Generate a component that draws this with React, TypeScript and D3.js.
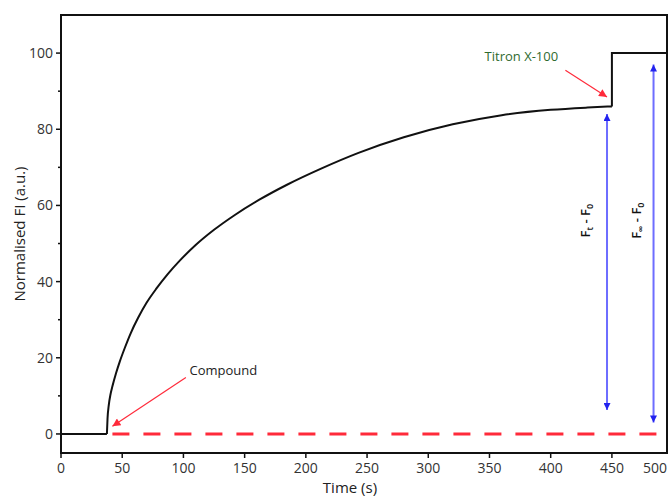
import React, { useEffect, useRef } from 'react';
import * as d3 from 'd3';

// kinetic trace (time in s, normalised FI)
const riseTime = [37.5, 38, 39, 40.5, 42, 45, 48, 52, 57, 63, 70, 78, 87, 97, 110, 125, 142, 162, 185, 212, 243, 280, 320, 360, 400, 430, 450];
const riseValue = [0, 4, 7.5, 10.5, 12.5, 16, 19, 22.5, 26.5, 30.5, 34.5, 38.2, 41.9, 45.5, 49.6, 53.6, 57.5, 61.5, 65.5, 69.6, 73.8, 77.9, 81.3, 83.7, 85.1, 85.7, 86];
const baseTime = [0, 37.5];
const stepTime = [450, 450, 495];
const stepValue = [86, 100, 100];
const compoundTime = [42, 495];
const compoundValue = [0, 0];

const xTicks = [0, 50, 100, 150, 200, 250, 300, 350, 400, 450, 500];
const yTicks = [0, 20, 40, 60, 80, 100];
const yMinor = [10, 30, 50, 70, 90];

const FONT = '"Open Sans", "Liberation Sans", sans-serif';

const App: React.FC = () => {
  const ref = useRef<SVGSVGElement>(null);

  useEffect(() => {
    const svg = d3.select(ref.current);
    svg.selectAll('*').remove();

    const W = 671;
    const H = 497;
    const m = { top: 15, right: 4, bottom: 44, left: 61 };

    const x = d3.scaleLinear().domain([0, 495]).range([m.left, W - m.right]);
    const y = d3.scaleLinear().domain([-5, 110]).range([H - m.bottom, m.top]);

    const defs = svg.append('defs');
    const marker = (id: string, color: string, w: number, h: number) => {
      defs
        .append('marker')
        .attr('id', id)
        .attr('viewBox', '0 0 10 10')
        .attr('refX', 10)
        .attr('refY', 5)
        .attr('markerWidth', w)
        .attr('markerHeight', h)
        .attr('markerUnits', 'userSpaceOnUse')
        .attr('orient', 'auto-start-reverse')
        .append('path')
        .attr('d', 'M0,0 L10,5 L0,10 Z')
        .attr('fill', color);
    };
    marker('redHead', '#ff2a3a', 10, 8);
    marker('blueHead', '#2222ee', 8, 7);

    // frame
    svg
      .append('rect')
      .attr('x', x(0))
      .attr('y', y(110))
      .attr('width', x(495) - x(0))
      .attr('height', y(-5) - y(110))
      .attr('fill', 'none')
      .attr('stroke', '#111')
      .attr('stroke-width', 2);

    // y ticks
    const yAxis = svg.append('g').attr('font-family', FONT);
    yAxis
      .selectAll('line.major')
      .data(yTicks)
      .join('line')
      .attr('x1', x(0) - 5)
      .attr('x2', x(0))
      .attr('y1', (d) => y(d))
      .attr('y2', (d) => y(d))
      .attr('stroke', '#111')
      .attr('stroke-width', 1.5);
    yAxis
      .selectAll('line.minor')
      .data(yMinor)
      .join('line')
      .attr('x1', x(0) - 3)
      .attr('x2', x(0))
      .attr('y1', (d) => y(d))
      .attr('y2', (d) => y(d))
      .attr('stroke', '#111')
      .attr('stroke-width', 1.5);
    yAxis
      .selectAll('text')
      .data(yTicks)
      .join('text')
      .attr('x', x(0) - 8)
      .attr('y', (d) => y(d))
      .attr('dy', '0.35em')
      .attr('text-anchor', 'end')
      .attr('font-size', 14)
      .attr('fill', '#333')
      .text((d) => d);

    // x ticks
    const xAxis = svg.append('g').attr('font-family', FONT);
    xAxis
      .selectAll('line')
      .data(xTicks.filter((d) => d <= 495))
      .join('line')
      .attr('x1', (d) => x(d))
      .attr('x2', (d) => x(d))
      .attr('y1', y(-5))
      .attr('y2', y(-5) + 5)
      .attr('stroke', '#111')
      .attr('stroke-width', 1.5);
    xAxis
      .selectAll('text')
      .data(xTicks)
      .join('text')
      .attr('x', (d) => Math.min(x(d), W - 16))
      .attr('y', y(-5) + 20)
      .attr('text-anchor', 'middle')
      .attr('font-size', 14)
      .attr('fill', '#333')
      .text((d) => d);

    // axis titles
    svg
      .append('text')
      .attr('x', 350)
      .attr('y', H - 4)
      .attr('text-anchor', 'middle')
      .attr('font-family', FONT)
      .attr('font-size', 15)
      .attr('fill', '#222')
      .text('Time (s)');
    svg
      .append('text')
      .attr('transform', `translate(25,${(y(-5) + y(110)) / 2}) rotate(-90)`)
      .attr('text-anchor', 'middle')
      .attr('font-family', FONT)
      .attr('font-size', 15)
      .attr('fill', '#222')
      .text('Normalised FI (a.u.)');

    // traces
    const line = d3
      .line<[number, number]>()
      .x((d) => x(d[0]))
      .y((d) => y(d[1]));

    svg
      .append('path')
      .attr('d', line(compoundTime.map((t, i) => [t, compoundValue[i]] as [number, number])))
      .attr('fill', 'none')
      .attr('stroke', '#ff2a3a')
      .attr('stroke-width', 3)
      .attr('stroke-dasharray', '17,14');

    svg
      .append('path')
      .attr('d', line(baseTime.map((t) => [t, 0] as [number, number])))
      .attr('fill', 'none')
      .attr('stroke', '#111')
      .attr('stroke-width', 2);
    svg
      .append('path')
      .attr(
        'd',
        line.curve(d3.curveMonotoneX)(riseTime.map((t, i) => [t, riseValue[i]] as [number, number])),
      )
      .attr('fill', 'none')
      .attr('stroke', '#111')
      .attr('stroke-width', 2);
    svg
      .append('path')
      .attr(
        'd',
        line.curve(d3.curveLinear)(stepTime.map((t, i) => [t, stepValue[i]] as [number, number])),
      )
      .attr('fill', 'none')
      .attr('stroke', '#111')
      .attr('stroke-width', 2)
      .attr('stroke-linejoin', 'miter');

    // blue double arrows
    const arrows = [
      { t: 446, from: 6.3, to: 84, label: 't' },
      { t: 484, from: 3, to: 97, label: '∞' },
    ];
    arrows.forEach((a, i) => {
      svg
        .append('line')
        .attr('x1', x(a.t))
        .attr('x2', x(a.t))
        .attr('y1', y(a.from))
        .attr('y2', y(a.to))
        .attr('stroke', '#6d6dff')
        .attr('stroke-width', 2)
        .attr('marker-start', 'url(#blueHead)')
        .attr('marker-end', 'url(#blueHead)');
      const lx = x(a.t) - (i === 0 ? 17 : 13);
      const ly = y(56);
      const txt = svg
        .append('text')
        .attr('transform', `translate(${lx},${ly}) rotate(-90)`)
        .attr('text-anchor', 'middle')
        .attr('font-family', FONT)
        .attr('font-size', 13)
        .attr('font-weight', 600)
        .attr('fill', '#111');
      txt.append('tspan').text('F');
      txt.append('tspan').attr('font-size', 9).attr('dy', 3).text(a.label);
      txt.append('tspan').attr('dy', -3).text(' - F');
      txt.append('tspan').attr('font-size', 9).attr('dy', 3).text('0');
    });

    // annotations
    svg
      .append('text')
      .attr('x', x(346))
      .attr('y', y(99) + 4)
      .attr('font-family', FONT)
      .attr('font-size', 13)
      .attr('fill', '#2f6b2f')
      .text('Titron X-100');
    svg
      .append('line')
      .attr('x1', x(412))
      .attr('y1', y(95.5))
      .attr('x2', x(446))
      .attr('y2', y(88.5))
      .attr('stroke', '#ff2a3a')
      .attr('stroke-width', 1.2)
      .attr('marker-end', 'url(#redHead)');

    svg
      .append('text')
      .attr('x', x(105))
      .attr('y', y(16.4) + 4)
      .attr('font-family', FONT)
      .attr('font-size', 13)
      .attr('fill', '#222')
      .text('Compound');
    svg
      .append('line')
      .attr('x1', x(102))
      .attr('y1', y(14.8))
      .attr('x2', x(42))
      .attr('y2', y(2))
      .attr('stroke', '#ff2a3a')
      .attr('stroke-width', 1.2)
      .attr('marker-end', 'url(#redHead)');
  }, []);

  return (
    <svg
      ref={ref}
      width={671}
      height={497}
      style={{ position: 'absolute', left: 0, top: 0, background: '#fff' }}
    />
  );
};

export default App;
